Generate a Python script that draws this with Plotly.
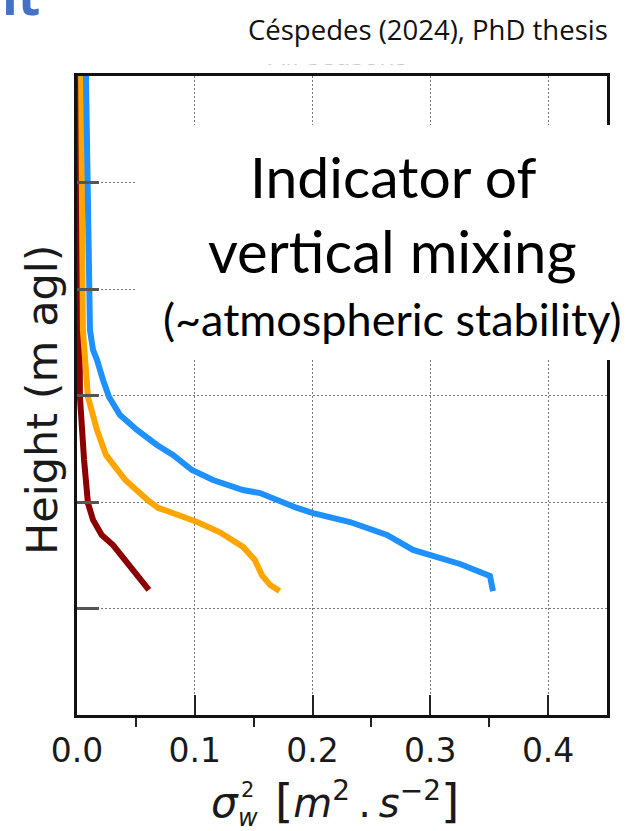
import plotly.graph_objects as go

# Vertical velocity variance profiles, sigma_w^2 [m2 s-2] vs height [m agl]
height_blue = [3000, 2493, 1991, 1808, 1714, 1667, 1573, 1493, 1408, 1338, 1268, 1221, 1150,
               1103, 1056, 1042, 972, 948, 906, 845, 775, 751, 709, 653, 582]
var_blue = [0.0076, 0.0093, 0.0102, 0.0110, 0.0136, 0.0170, 0.0221, 0.0272, 0.0365, 0.0509,
            0.0679, 0.0815, 0.0976, 0.1155, 0.1409, 0.1554, 0.1868, 0.2004, 0.2318, 0.2632,
            0.2853, 0.3014, 0.3252, 0.3506, 0.3532]

height_orange = [3000, 2493, 1991, 1808, 1493, 1338, 1221, 1103, 1009, 972, 953, 906, 859,
                 789, 728, 657, 610, 582]
var_orange = [0.0035, 0.0040, 0.0045, 0.0050, 0.0093, 0.0170, 0.0246, 0.0410, 0.0600, 0.0690,
              0.0790, 0.1020, 0.1210, 0.1410, 0.1510, 0.1570, 0.1640, 0.1720]

height_red = [3000, 1493, 1197, 1056, 995, 916, 845, 798, 728, 657, 587]
var_red = [0.0010, 0.0025, 0.0060, 0.0076, 0.0093, 0.0136, 0.0210, 0.0306, 0.0410, 0.0510, 0.0610]

x_ticks = [0.0, 0.1, 0.2, 0.3, 0.4]
x_ticklabels = ["0.0", "0.1", "0.2", "0.3", "0.4"]

W, H = 628, 831
L, R, T, B = 77, 607, 76, 715


def px(x):
    return (x - L) / (R - L)


def py(y):
    return (B - y) / (B - T)


def note(text, x, y, size, family="DejaVu Sans", color="#1a1a1a", xanchor="center",
         yanchor="middle", **kw):
    return dict(text=text, x=px(x), y=py(y), xref="paper", yref="paper", showarrow=False,
                xanchor=xanchor, yanchor=yanchor,
                font=dict(family=family, size=size, color=color), **kw)


fig = go.Figure()
for xs, ys, col in [(var_red, height_red, "#8b0000"),
                    (var_orange, height_orange, "#ffa500"),
                    (var_blue, height_blue, "#1e90ff")]:
    fig.add_trace(go.Scatter(x=xs, y=ys, mode="lines",
                             line=dict(color=col, width=6), showlegend=False,
                             hoverinfo="skip"))

fig.update_layout(
    width=W, height=H,
    margin=dict(l=L, r=W - R, t=T, b=H - B, pad=0),
    paper_bgcolor="white", plot_bgcolor="white",
    xaxis=dict(range=[0, 0.45], tickvals=x_ticks, ticktext=x_ticklabels,
               showline=True, linecolor="#111", linewidth=2.5, mirror=True,
               ticks="inside", ticklen=20, tickwidth=1.5, tickcolor="#222",
               showgrid=True, gridcolor="#777", gridwidth=1.3, griddash="2px,2px",
               zeroline=False, ticklabelstandoff=5,
               tickfont=dict(family="DejaVu Sans", size=33, color="#1a1a1a"),
               minor=dict(tick0=0.05, dtick=0.1, ticks="outside", ticklen=9,
                          tickwidth=1.5, tickcolor="#222", showgrid=False)),
    yaxis=dict(range=[0, 3000], dtick=500, showticklabels=False,
               showline=True, linecolor="#111", linewidth=2.5, mirror=True,
               ticks="inside", ticklen=22, tickwidth=2.5, tickcolor="#555",
               showgrid=True, gridcolor="#777", gridwidth=1.3, griddash="2px,2px",
               zeroline=False),
)

# white panel behind the caption text
fig.add_shape(type="rect", xref="paper", yref="paper", layer="above",
              x0=px(137), x1=px(640), y0=py(360), y1=py(125),
              fillcolor="white", line=dict(width=0))

thin = "\u2009"
ann = [
    # axis titles
    note("Height (m agl)", 42, 400, 43, textangle=-90),
    note("<i>σ</i>", 241, 802, 42, xanchor="right"),
    note("2", 239, 790, 21, xanchor="left"),
    note("<i>w</i>", 236, 818, 24, xanchor="left"),
    note("<span style='font-size:47px'>[</span><i>m</i><sup>2</sup>" + thin + "." + thin
         + "<i>s</i><sup>−2</sup><span style='font-size:47px'>]</span>",
         273, 800, 40, xanchor="left"),
    # caption
    note("Indicator of", 393, 176, 57, family="Lato", color="black"),
    note("vertical mixing", 392, 250, 58, family="Lato", color="black"),
    note("(~atmospheric stability)", 392, 319, 45, family="Lato", color="black"),
    # header: faded line partly hidden behind the attribution box
    note("All seasons", 338, 56.5, 25, color="#9a9a9a"),
    note("Céspedes (2024), PhD thesis", 428, 29, 27.5, family="Open Sans", color="#111",
         bgcolor="white", borderpad=16),
    note("<b>it</b>", 0, -5, 52, family="Open Sans", color="#4472c4", xanchor="left"),
]

fig.update_layout(annotations=ann)
fig.write_html("out.html")
